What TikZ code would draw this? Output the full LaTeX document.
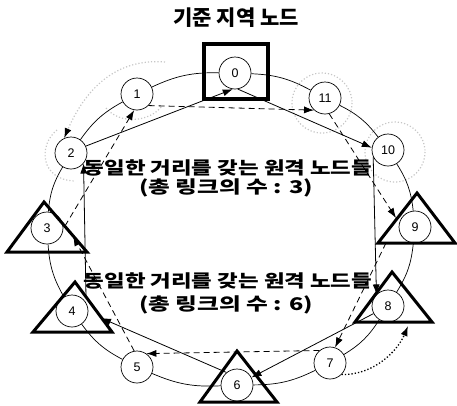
\documentclass[tikz,border=0pt]{standalone}
\usepackage{fontspec}
\setmainfont{Liberation Sans}
\newfontfamily\kr{Noto Sans CJK KR}
\usetikzlibrary{arrows.meta}
\begin{document}
\begin{tikzpicture}[x=1pt,y=-1pt,
  nd/.style={circle,draw,line width=0.7pt,fill=white,minimum size=32pt,inner sep=0pt,font=\fontsize{12.5}{12.5}\selectfont},
  ringedge/.style={line width=0.7pt},
  tri/.style={line width=3pt,line join=miter},
  solidarr/.style={line width=0.8pt,-{Latex[length=10pt,width=7pt]}},
  dasharr/.style={line width=0.8pt,dash pattern=on 6pt off 4pt,-{Latex[length=10pt,width=7pt]}},
  fuzz/.style={gray!45,dotted,line width=1.2pt},
  dotarr/.style={line width=1.3pt,dotted,-{Latex[length=10pt,width=7pt]}},
  lbl/.style={font=\kr\bfseries\fontsize{17.5}{17.5}\selectfont,inner sep=0pt},
  ttl/.style={font=\kr\bfseries\fontsize{21}{21}\selectfont,inner sep=0pt}
]
\useasboundingbox (0,0) rectangle (457,405);

% ring nodes
\node[nd] (n0) at (235,73) {0};
\node[nd] (n1) at (137,94) {1};
\node[nd] (n2) at (71,153) {2};
\node[nd] (n3) at (47,228) {3};
\node[nd] (n4) at (72,311) {4};
\node[nd] (n5) at (137,367) {5};
\node[nd] (n6) at (237,385) {6};
\node[nd] (n7) at (330,363) {7};
\node[nd] (n8) at (388,306) {8};
\node[nd] (n9) at (415,227) {9};
\node[nd] (n10) at (388,150) {10};
\node[nd] (n11) at (325,98) {11};

% points on the triangles
\coordinate (t3a) at (73,236);
\coordinate (t3b) at (65,226);
\coordinate (t4a) at (101,318);
\coordinate (t4b) at (86,297);
\coordinate (t9a) at (396,218);
\coordinate (t9b) at (386,243);
\coordinate (t8a) at (408,326);
\coordinate (g1) at (165,62);

% gray fuzzy highlight loops
\draw[fuzz,-{Latex[black,length=10pt,width=7pt]}] (g1) .. controls (115,58) and (85,90) .. (n2.115);
\draw[fuzz] (106,108) .. controls (120,125) and (150,122) .. (162,106);
\draw[fuzz] (57,130) .. controls (38,145) and (40,180) .. (75,181);
\draw[fuzz] (322,103) circle[radius=30];
\draw[fuzz] (395,152) circle[radius=30];

% ring
\foreach \a/\b in {0/1,1/2,2/3,3/4,4/5,5/6,6/7,7/8,8/9,9/10,10/11,11/0}
  \draw[ringedge] (n\a) to[bend right=13] (n\b);

% reference box and triangles
\draw[line width=3.5pt] (204,44) rectangle (268,99);
\draw[tri] (44,202) -- (7,252) -- (87,252) -- cycle;
\draw[tri] (75,282) -- (33,332) -- (112,332) -- cycle;
\draw[tri] (237,351) -- (200,402) -- (277,402) -- cycle;
\draw[tri] (392,272) -- (355,322) -- (432,322) -- cycle;
\draw[tri] (417,193) -- (378,243) -- (455,243) -- cycle;

% even cycle (solid)
\draw[solidarr] (n0.280) -- (n10.172);
\draw[solidarr] (n10.205) -- (n8.135);
\draw[solidarr] (n8) -- (n6);
\draw[solidarr] (n6.130) -- (t4a);
\draw[solidarr] (t4b) -- (n2.-40);
\draw[solidarr] (n2.25) -- (n0.262);

% odd cycle (dashed)
\draw[dasharr] (n1.-45) -- (n11.228);
\draw[dasharr] (n11.-75) -- (t9a);
\draw[dasharr] (t9b) -- (n7.72);
\draw[dasharr] (n7.130) -- (n5.55);
\draw[dasharr] (n5.100) -- (t3a);
\draw[dasharr] (t3b) -- (n1.-100);

% outer dotted path
\draw[dotarr] (n7.-45) .. controls (375,375) and (398,350) .. (t8a);

% texts
\node[ttl] (title) at (236,18) {기준 지역 노드};
\node[lbl] (l1a) at (228,168) {\scalebox{1.28}[1]{동일한 거리를 갖는 원격 노드들}};
\node[lbl] (l1b) at (226,188) {\scalebox{1.35}[1]{(총 링크의 수 : 3)}};
\node[lbl] (l2a) at (228,281) {\scalebox{1.28}[1]{동일한 거리를 갖는 원격 노드들}};
\node[lbl] (l2b) at (226,305) {\scalebox{1.35}[1]{(총 링크의 수 : 6)}};
\end{tikzpicture}
\end{document}
